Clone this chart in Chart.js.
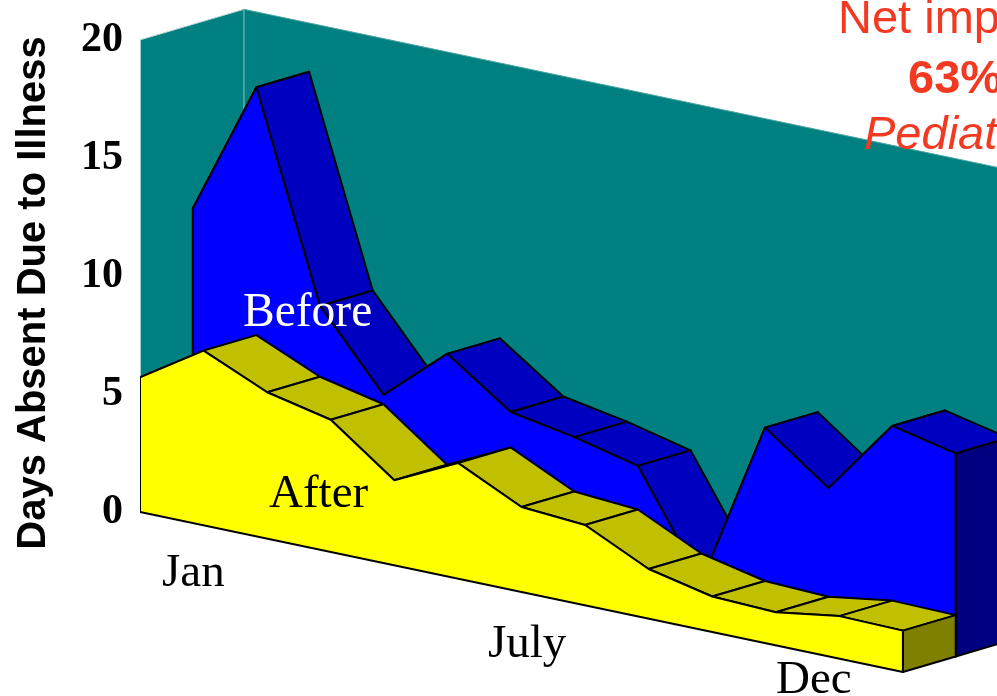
<!DOCTYPE html>
<html lang="en">
<head>
  <meta charset="UTF-8" />
  <title>Days Absent Due to Illness</title>
  <script src="https://cdn.jsdelivr.net/npm/chart.js"></script>
  <style>
    html, body { margin: 0; padding: 0; background: #fff; overflow: hidden; }
    #wrap { width: 997px; height: 696px; }
  </style>
</head>
<body>
  <div id="wrap"><canvas id="absentChart" width="997" height="696"></canvas></div>

  <script>
    // 13 sample positions along the month axis, Jan to Dec
    const beforeValues = [12.2, 17.9, 9.2, 6.0, 8.3, 6.4, 5.9, 5.25, 0.9, 8.0, 6.0, 9.2, 8.6];
    const afterValues = [5.7, 7.4, 6.2, 5.6, 3.6, 4.9, 3.6, 3.4, 2.1, 1.5, 1.4, 1.8, 1.75];
    const yTicks = [0, 5, 10, 15, 20];
    const wallTop = 20;

    // oblique projection, in axis units
    const monthDrop = 0.565;   // floor falls this many days per month
    const depthX = 0.83;       // one row back, in months
    const depthY = 0.657;      // one row back, in days
    const wallRow = 1.97;      // back wall sits just behind the second row

    const teal = '#008080';
    const red = '#f23a22';

    function project(i, v, row) {
      return { x: i + row * depthX, y: v - i * monthDrop + row * depthY };
    }

    function poly(points, fillColor, lineColor, lineWidth) {
      return {
        data: points.concat([points[0]]),
        showLine: true,
        fill: 'shape',
        backgroundColor: fillColor,
        borderColor: lineColor,
        borderWidth: lineWidth,
        borderJoinStyle: 'round',
        pointRadius: 0,
        tension: 0
      };
    }

    // one series: ribbon on top going left to right, end cap, then front face
    function seriesShapes(values, row, frontColor, topColor, endColor) {
      const shapes = [];
      const last = values.length - 1;
      for (let i = 0; i < last; i++) {
        shapes.push(poly([
          project(i, values[i], row),
          project(i + 1, values[i + 1], row),
          project(i + 1, values[i + 1], row + 1),
          project(i, values[i], row + 1)
        ], topColor, '#000', 2));
      }
      shapes.push(poly([
        project(last, values[last], row),
        project(last, values[last], row + 1),
        project(last, 0, row + 1),
        project(last, 0, row)
      ], endColor, '#000', 2));
      const front = values.map((v, i) => project(i, v, row));
      front.push(project(last, 0, row), project(0, 0, row));
      shapes.push(poly(front, frontColor, '#000', 2));
      return shapes;
    }

    const last = beforeValues.length - 1;
    const walls = [
      poly([project(0, 0, 0), project(0, 0, wallRow), project(0, wallTop, wallRow), project(0, wallTop, 0)], teal, '#b5d8d8', 1),
      poly([project(0, 0, wallRow), project(last, 0, wallRow), project(last, wallTop, wallRow), project(0, wallTop, wallRow)], teal, '#4fa5a5', 1)
    ];

    // painter's order, back to front
    const shapes = walls
      .concat(seriesShapes(beforeValues, 1, '#0000ff', '#0000c0', '#000080'))
      .concat(seriesShapes(afterValues, 0, '#ffff00', '#c0c000', '#808000'));
    // chart.js paints dataset 0 last
    const datasets = shapes.reverse();

    const textLabels = [
      { text: 'Net imp', x: 838, y: 33, font: '47px "Liberation Sans"', color: red },
      { text: '63%', x: 908, y: 93, font: 'bold 47px "Liberation Sans"', color: red },
      { text: 'Pediat', x: 864, y: 149, font: 'italic 47px "Liberation Sans"', color: red },
      { text: 'Before', x: 243, y: 326, font: '47.5px "Liberation Serif"', color: '#fff' },
      { text: 'After', x: 269, y: 507, font: '47px "Liberation Serif"', color: '#000' },
      { text: 'Jan', x: 162, y: 586, font: '47px "Liberation Serif"', color: '#000' },
      { text: 'July', x: 488, y: 657, font: '47px "Liberation Serif"', color: '#000' },
      { text: 'Dec', x: 776, y: 693, font: '47px "Liberation Serif"', color: '#000' }
    ];

    const textPlugin = {
      id: 'textPlugin',
      afterDatasetsDraw(chart) {
        const ctx = chart.ctx;
        ctx.save();
        ctx.textAlign = 'left';
        ctx.textBaseline = 'alphabetic';
        textLabels.forEach(t => {
          ctx.font = t.font;
          ctx.fillStyle = t.color;
          ctx.fillText(t.text, t.x, t.y);
        });
        ctx.translate(45, 293);
        ctx.rotate(-Math.PI / 2);
        ctx.textAlign = 'center';
        ctx.font = 'bold 40px "Liberation Sans"';
        ctx.fillStyle = '#000';
        ctx.fillText('Days Absent Due to Illness', 0, 0);
        ctx.restore();
      }
    };

    new Chart(document.getElementById('absentChart'), {
      type: 'scatter',
      data: { datasets: datasets },
      plugins: [textPlugin],
      options: {
        responsive: false,
        animation: false,
        events: [],
        layout: { padding: 0 },
        plugins: { legend: { display: false }, tooltip: { enabled: false } },
        scales: {
          x: {
            type: 'linear',
            display: false,
            min: 0,
            max: 13.48
          },
          y: {
            type: 'linear',
            min: -7.8,
            max: 21.69,
            grid: { display: false },
            border: { display: false },
            ticks: {
              autoSkip: false,
              padding: 9,
              color: '#000',
              font: { family: '"Liberation Serif"', size: 42, weight: 'bold' }
            },
            afterBuildTicks(scale) {
              scale.ticks = yTicks.map(v => ({ value: v }));
            },
            afterFit(scale) {
              scale.width = 140;
              scale.paddingTop = 0;
              scale.paddingBottom = 0;
            }
          }
        }
      }
    });
  </script>
</body>
</html>
